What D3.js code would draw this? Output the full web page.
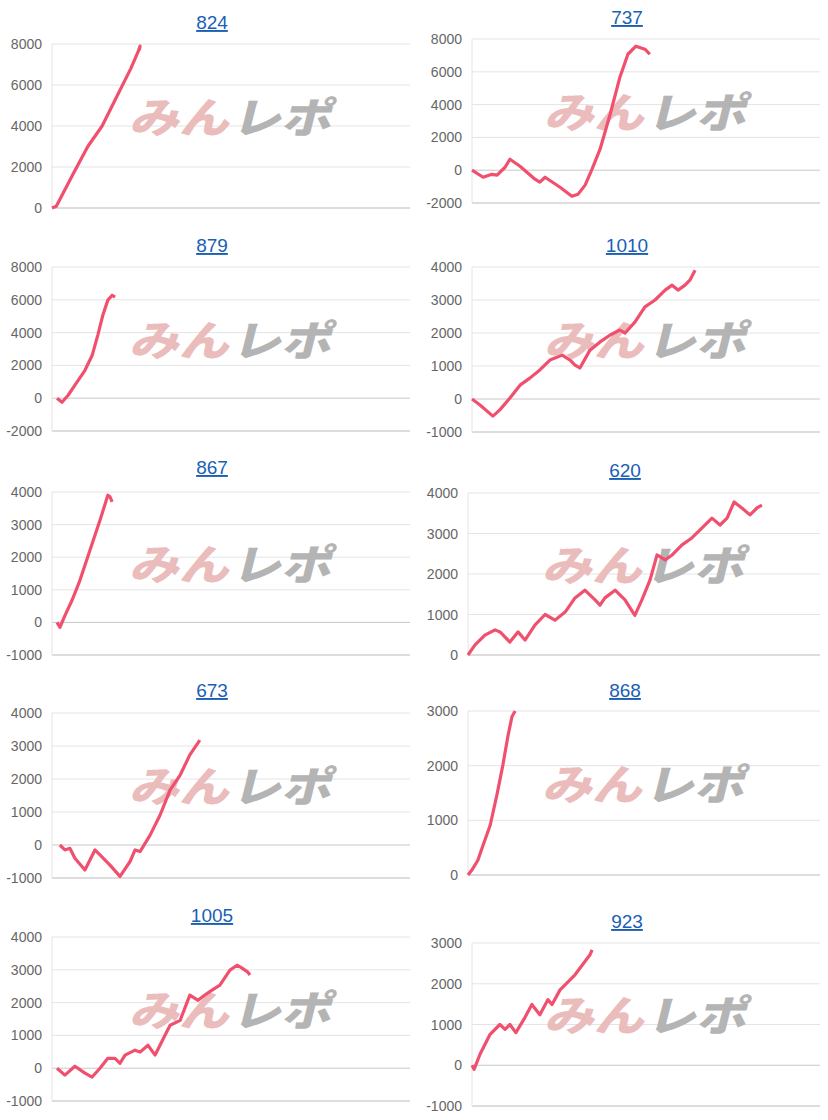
<!DOCTYPE html><html><head><meta charset="utf-8">
<script src="https://cdn.jsdelivr.net/npm/d3@7"></script>
<style>body{margin:0;background:#fff}svg{display:block}</style></head><body>
<svg id="c" width="828" height="1120"></svg>
<script>
const titles=["824","737","879","1010","867","620","673","868","1005","923"];
const yTicks=[[0,2000,4000,6000,8000],[-2000,0,2000,4000,6000,8000],[-2000,0,2000,4000,6000,8000],[-1000,0,1000,2000,3000,4000],[-1000,0,1000,2000,3000,4000],[0,1000,2000,3000,4000],[-1000,0,1000,2000,3000,4000],[0,1000,2000,3000],[-1000,0,1000,2000,3000,4000],[-1000,0,1000,2000,3000]];
const s824=[[0,0],[1.2,80],[2,350],[6,1700],[10,3000],[14,4000],[18,5400],[22,6800],[24,7600],[24.6,7900],[24.4,7700]];
const s737=[[0,0],[3.2,-430],[5.7,-250],[7.2,-300],[9.5,180],[10.9,670],[13.8,240],[18.1,-550],[19.5,-730],[21,-430],[25.3,-1040],[28.7,-1590],[30.5,-1460],[32.5,-910],[34.5,60],[36.8,1280],[39.7,3410],[42.5,5670],[44.8,7070],[47.1,7560],[49.7,7380],[51.1,7070]];
const s879=[[1.4,0],[2.8,-250],[4.5,180],[6.4,800],[9.2,1700],[11.2,2600],[12.8,3850],[14.2,5060],[15.6,5980],[16.8,6280],[17.6,6160]];
const s1010=[[0,0],[2.3,-180],[6,-520],[8,-330],[10.9,30],[13.8,420],[16.7,640],[19.5,880],[22.4,1180],[25.9,1330],[28.2,1180],[29.6,1030],[31,940],[33.9,1480],[36.8,1730],[39.7,1940],[42.5,2090],[44,2000],[46.8,2330],[49.7,2790],[52.6,3000],[55.5,3300],[57.5,3450],[59.2,3300],[61.2,3450],[62.6,3600],[64.1,3900]];
const s867=[[1.4,0],[2.2,-150],[3.6,210],[5.6,680],[7.8,1290],[10.6,2210],[13.4,3130],[15.6,3900],[16.2,3850],[16.8,3700]];
const s620=[[0,0],[2,250],[4.8,490],[7.7,620],[9.1,570],[11.9,320],[14.2,570],[16.2,370],[19,740],[21.9,1000],[24.7,860],[27.6,1060],[30.4,1410],[33.2,1600],[36.1,1360],[37.5,1230],[38.9,1410],[41.8,1600],[44.6,1360],[47.4,980],[49.4,1360],[51.7,1850],[53.7,2470],[56,2350],[58,2470],[60.8,2720],[63.6,2890],[66.5,3140],[69.3,3380],[71.6,3210],[73.6,3380],[75.6,3780],[77.8,3630],[80.1,3460],[82.1,3630],[83.5,3700]];
const s673=[[2.2,0],[3.6,-150],[5,-100],[6.4,-400],[9.2,-760],[12,-150],[13.4,-300],[16.2,-610],[19,-950],[21.8,-500],[23.2,-150],[24.6,-200],[27.4,300],[30.2,910],[33,1670],[35.8,2120],[38.5,2730],[41.3,3180]];
const s868=[[0,0],[1.1,90],[2.8,270],[4.3,550],[6.3,910],[8.2,1460],[9.9,2010],[11.4,2560],[12.5,2900],[13.4,3000]];
const s1005=[[1.4,0],[3.6,-210],[6.4,60],[9.2,-150],[11.2,-270],[13.4,0],[15.6,300],[17.6,300],[19,150],[20.4,400],[23.2,550],[24.6,490],[26.8,700],[28.8,400],[31.6,1010],[33,1310],[35.8,1460],[38.5,2230],[40.8,2070],[42.7,2230],[44.7,2380],[46.9,2530],[49.7,2990],[51.7,3140],[53.1,3050],[54.7,2930],[55.3,2840]];
const s923=[[0,0],[0.6,-100],[2.3,270],[5.2,760],[8,1000],[9.5,880],[10.9,1000],[12.6,800],[15.2,1170],[17.2,1490],[19.5,1240],[21.8,1610],[23,1490],[25.3,1850],[29.6,2220],[33.9,2710],[34.5,2830]];
const series=[s824,s737,s879,s1010,s867,s620,s673,s868,s1005,s923];
const boxes=[[52,410,44,208,22],[472,820,39,203,17],[52,410,267,431,245],[472,820,267,432,245],[52,410,492,655,467],[468,820,493,655,470],[52,410,713,878,690],[468,820,711,875,690],[52,410,937,1101,915],[472,820,943,1106,921]];
const svg=d3.select("#c");
series.forEach((d,i)=>{
  const [x0,x1,yt,yb,ty]=boxes[i], tk=yTicks[i];
  const x=d3.scaleLinear().domain([0,100]).range([x0,x1]);
  const y=d3.scaleLinear().domain([tk[0],tk[tk.length-1]]).range([yb,yt]);
  const g=svg.append("g");
  const cx=(x0+x1)/2;
  g.append("text").attr("x",cx-19).attr("y",ty+7).attr("text-anchor","middle").attr("font-family","Liberation Sans, Arial").attr("font-size",19).attr("fill","#1a5fb4").attr("text-decoration","underline").text(titles[i]);
  tk.forEach(t=>{
    g.append("line").attr("x1",x0).attr("x2",x1).attr("y1",y(t)).attr("y2",y(t)).attr("stroke",t===tk[0]?"#bbb":(t===0?"#c8c8c8":"#e4e4e4")).attr("stroke-width",1);
    g.append("text").attr("x",x0-10).attr("y",y(t)+5).attr("text-anchor","end").attr("font-family","Liberation Sans, Arial").attr("font-size",14).attr("fill","#666").text(t);
  });
  g.append("line").attr("x1",x0).attr("x2",x0).attr("y1",yt).attr("y2",yb).attr("stroke","#e4e4e4");
  const wy=(yt+yb)/2-10;
  const wm=g.append("text").attr("x",cx-102).attr("y",wy+17).attr("font-family","Noto Sans CJK JP").attr("font-weight","900").attr("font-size",42).attr("textLength",202).attr("lengthAdjust","spacingAndGlyphs").attr("transform",`skewX(-14) translate(${(wy+17)*Math.tan(14*Math.PI/180)},0)`);
  wm.append("tspan").attr("fill","#ebbcbc").text("みん");
  wm.append("tspan").attr("fill","#b4b4b4").attr("dx",2).text("レポ");
  g.append("path").datum(d).attr("fill","none").attr("stroke","#f0506e").attr("stroke-width",3.2).attr("stroke-linejoin","round")
   .attr("d",d3.line().x(p=>x(p[0])).y(p=>y(p[1])));
});
</script></body></html>
